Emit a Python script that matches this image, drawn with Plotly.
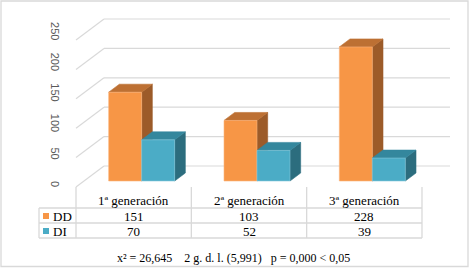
import plotly.graph_objects as go

# ---------------- data ----------------
categories = ["1ª generación", "2ª generación", "3ª generación"]
series_names = ["DD", "DI"]
dd_values = [151, 103, 228]
di_values = [70, 52, 39]
y_ticks = [0, 50, 100, 150, 200, 250]
footer_text = "x² = 26,645\u00a0\u00a0\u00a0 2 g. d. l. (5,991)\u00a0\u00a0 p = 0,000 < 0,05"

# ---------------- styling / geometry ----------------
W, H = 469, 268
CW = 115.33          # px per category (front plane)
X_LEFT_PX = 76.0     # px of left edge of category band
K = 0.588            # px per value unit
Y0_PX = 187.0        # px of value 0 at front plane
DEPTH_PX = (28.0, -21.0)   # full depth vector in px
DX = DEPTH_PX[0] / CW
DV = -DEPTH_PX[1] / K
BAR_W = 33.0 / CW
D_FRONT, D_BACK = 6.0 / 21.0, 14.0 / 21.0

colors = {
    "DD": {"front": "#F79646", "top": "#BD7033", "side": "#9C5B29", "edge": "#FBB57E"},
    "DI": {"front": "#4BACC6", "top": "#34879D", "side": "#2C6D7E", "edge": "#86CADB"},
}
GRID = "#D9D9D9"
SERIF = "Liberation Serif, Times New Roman, serif"

x_range = [-0.5 - X_LEFT_PX / CW, -0.5 + (W - X_LEFT_PX) / CW]
y_range = [(Y0_PX - H) / K, Y0_PX / K]


def P(x, v, d):
    """project point at category x, value v, depth d into data coords"""
    return x + d * DX, v + d * DV


def py(px):
    return 1 - px / H


def pxx(px):
    return px / W


fig = go.Figure()

# walls gridlines
gx, gy = [], []
for t in y_ticks:
    for (a, b) in [((-0.5, t, 0), (-0.5, t, 1)), ((-0.5, t, 1), (2.5, t, 1))]:
        x1, y1 = P(*a)
        x2, y2 = P(*b)
        gx += [x1, x2, None]
        gy += [y1, y2, None]
fig.add_trace(go.Scatter(x=gx, y=gy, mode="lines", line=dict(color=GRID, width=1.2),
                         hoverinfo="skip", showlegend=False))


def face(pts, fill, edge):
    xs = [p[0] for p in pts] + [pts[0][0]]
    ys = [p[1] for p in pts] + [pts[0][1]]
    fig.add_trace(go.Scatter(x=xs, y=ys, mode="lines", fill="toself", fillcolor=fill,
                             line=dict(color=edge, width=0.6), hoverinfo="skip",
                             showlegend=False))


for i, cat in enumerate(categories):
    for s, (name, vals) in enumerate(zip(series_names, [dd_values, di_values])):
        val = vals[i]
        c = colors[name]
        xl = i - BAR_W + s * BAR_W
        xr = xl + BAR_W
        # side
        face([P(xr, 0, D_FRONT), P(xr, val, D_FRONT), P(xr, val, D_BACK), P(xr, 0, D_BACK)],
             c["side"], c["side"])
        # top
        face([P(xl, val, D_FRONT), P(xr, val, D_FRONT), P(xr, val, D_BACK), P(xl, val, D_BACK)],
             c["top"], c["top"])
        # front
        face([P(xl, 0, D_FRONT), P(xr, 0, D_FRONT), P(xr, val, D_FRONT), P(xl, val, D_FRONT)],
             c["front"], c["edge"])

annotations = []
shapes = []

# y tick labels (rotated)
for t in y_ticks:
    x, _ = P(-0.5, 0, 0)
    annotations.append(dict(x=x - 21.0 / CW, y=t * 1.04, xref="x", yref="y", text=str(t),
                            showarrow=False, textangle=90, yshift=3,
                            xanchor="center", yanchor="middle",
                            font=dict(family="Liberation Sans, Arial", size=11, color="#595959")))

# table lines
row_lines = [208, 223, 238]
for ry in row_lines:
    shapes.append(dict(type="line", xref="paper", yref="paper", x0=pxx(39), x1=pxx(422),
                       y0=py(ry), y1=py(ry), line=dict(color=GRID, width=1.3)))
for b in [-0.5, 0.5, 1.5, 2.5]:
    shapes.append(dict(type="line", xref="x", yref="paper", x0=b, x1=b,
                       y0=py(187), y1=py(238), line=dict(color=GRID, width=1.3)))
shapes.append(dict(type="line", xref="paper", yref="paper", x0=pxx(39), x1=pxx(39),
                   y0=py(208), y1=py(238), line=dict(color=GRID, width=1.3)))
# outer border
shapes.append(dict(type="rect", xref="paper", yref="paper", x0=pxx(1), x1=pxx(468),
                   y0=py(266.5), y1=py(1), line=dict(color=GRID, width=1.3)))

# header
for i, cat in enumerate(categories):
    annotations.append(dict(x=i, y=py(200.5), xref="x", yref="paper", text=cat, showarrow=False,
                            xanchor="center", yanchor="middle",
                            font=dict(family=SERIF, size=13, color="#000000")))
row_y = [216, 231]
for r, (name, vals) in enumerate(zip(series_names, [dd_values, di_values])):
    for i, v in enumerate(vals):
        annotations.append(dict(x=i, y=py(row_y[r]), xref="x", yref="paper", text=str(v),
                                showarrow=False, xanchor="center", yanchor="middle",
                                font=dict(family=SERIF, size=13, color="#000000")))
    annotations.append(dict(x=pxx(51), y=py(row_y[r]), xref="paper", yref="paper", text=name,
                            showarrow=False, xanchor="left", yanchor="middle",
                            font=dict(family=SERIF, size=13, color="#000000")))
    shapes.append(dict(type="rect", xref="paper", yref="paper", x0=pxx(43), x1=pxx(49),
                       y0=py(row_y[r] + 3), y1=py(row_y[r] - 3),
                       fillcolor=colors[name]["front"], line=dict(width=0)))

annotations.append(dict(x=pxx(233.5), y=py(258), xref="paper", yref="paper", text=footer_text,
                        showarrow=False, xanchor="center", yanchor="middle",
                        font=dict(family=SERIF, size=12, color="#000000")))

fig.update_layout(
    width=W, height=H, margin=dict(l=0, r=0, t=0, b=0),
    paper_bgcolor="white", plot_bgcolor="white",
    xaxis=dict(range=x_range, visible=False, fixedrange=True),
    yaxis=dict(range=y_range, visible=False, fixedrange=True),
    showlegend=False, annotations=annotations, shapes=shapes,
)

fig.write_html("out.html", config={"displayModeBar": False},
               post_script="document.body.style.margin='0';document.body.style.overflow='hidden';")
